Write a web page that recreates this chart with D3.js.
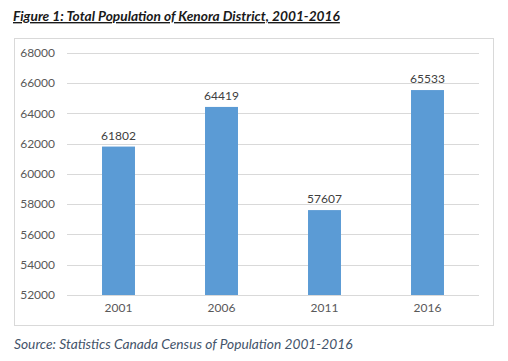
<!DOCTYPE html>
<html>
<head>
<meta charset="utf-8">
<script src="https://cdn.jsdelivr.net/npm/d3@7"></script>
<style>
  html, body { margin: 0; padding: 0; background: #fff; }
  svg { display: block; }
</style>
</head>
<body>
<div id="chart"></div>
<script>
// Total population of Kenora District, census years
const years = ["2001", "2006", "2011", "2016"];
const population = [61802, 64419, 57607, 65533];
const yTicks = [52000, 54000, 56000, 58000, 60000, 62000, 64000, 66000, 68000];

const titleText = "Figure 1: Total Population of Kenora District, 2001-2016";
const sourceText = "Source: Statistics Canada Census of Population 2001-2016";

const W = 508, H = 361;
const fontFamily = "Lato, 'Open Sans', sans-serif";

const svg = d3.select("#chart").append("svg")
    .attr("width", W)
    .attr("height", H);

// shrink/grow a text node so it spans a given width
function fitWidth(sel, target) {
    const len = sel.node().getComputedTextLength();
    const fs = parseFloat(sel.attr("font-size"));
    sel.attr("font-size", fs * target / len);
}

// title, underlined
const title = svg.append("text")
    .attr("x", 13)
    .attr("y", 21)
    .attr("font-family", fontFamily)
    .attr("font-size", 14)
    .attr("font-weight", 700)
    .attr("font-style", "italic")
    .attr("fill", "#1a1a1a")
    .attr("text-decoration", "underline")
    .text(titleText);
fitWidth(title, 327);

// chart frame
svg.append("rect")
    .attr("x", 14.5)
    .attr("y", 38.5)
    .attr("width", 479)
    .attr("height", 287)
    .attr("fill", "#fff")
    .attr("stroke", "#d9d9d9")
    .attr("stroke-width", 1);

const plot = { left: 67, right: 479, top: 52.7, bottom: 295 };

const x = d3.scaleBand()
    .domain(years)
    .range([plot.left, plot.right])
    .padding(0);

const y = d3.scaleLinear()
    .domain([52000, 68000])
    .range([plot.bottom, plot.top]);

const barW = x.bandwidth() * 0.32;

// gridlines
svg.append("g")
    .selectAll("line")
    .data(yTicks)
    .join("line")
    .attr("x1", plot.left)
    .attr("x2", plot.right)
    .attr("y1", d => Math.round(y(d)) + 0.5)
    .attr("y2", d => Math.round(y(d)) + 0.5)
    .attr("stroke", "#d9d9d9")
    .attr("stroke-width", 1);

// y axis labels
const yAxis = svg.append("g")
    .attr("transform", `translate(${plot.left - 12}, 0)`)
    .call(d3.axisLeft(y).tickValues(yTicks).tickSize(0).tickPadding(0).tickFormat(d3.format("d")));
yAxis.select(".domain").remove();
yAxis.selectAll("text")
    .attr("font-family", fontFamily)
    .attr("font-size", 12)
    .attr("fill", "#595959");

// bars
svg.append("g")
    .selectAll("rect")
    .data(years)
    .join("rect")
    .attr("x", (d) => x(d) + (x.bandwidth() - barW) / 2)
    .attr("width", barW)
    .attr("y", (d, i) => y(population[i]))
    .attr("height", (d, i) => y(52000) - y(population[i]))
    .attr("fill", "#5b9bd5");

// value labels
svg.append("g")
    .selectAll("text")
    .data(years)
    .join("text")
    .attr("x", d => x(d) + x.bandwidth() / 2)
    .attr("y", (d, i) => y(population[i]) - 7)
    .attr("text-anchor", "middle")
    .attr("font-family", fontFamily)
    .attr("font-size", 12)
    .attr("fill", "#404040")
    .text((d, i) => population[i]);

// x axis labels
const xAxis = svg.append("g")
    .attr("transform", `translate(0, ${plot.bottom + 8})`)
    .call(d3.axisBottom(x).tickSize(0).tickPadding(0));
xAxis.select(".domain").remove();
xAxis.selectAll("text")
    .attr("font-family", fontFamily)
    .attr("font-size", 12)
    .attr("fill", "#595959");

// source note
const source = svg.append("text")
    .attr("x", 14)
    .attr("y", 349)
    .attr("font-family", fontFamily)
    .attr("font-size", 12)
    .attr("font-style", "italic")
    .attr("fill", "#44546a")
    .text(sourceText);
fitWidth(source, 339);
</script>
</body>
</html>
